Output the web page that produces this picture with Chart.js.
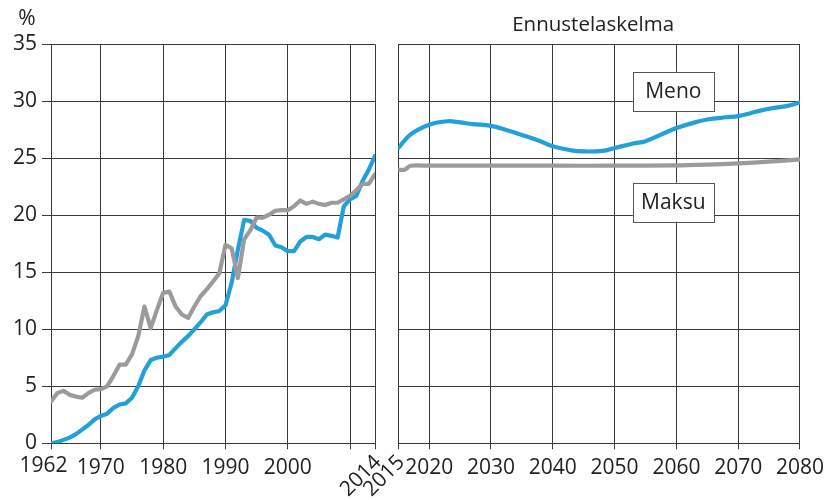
<!DOCTYPE html>
<html><head><meta charset="utf-8">
<script src="https://cdn.jsdelivr.net/npm/chart.js@4"></script>
<style>
html,body{margin:0;padding:0;background:#fff;}
#wrap{position:relative;width:830px;height:500px;overflow:hidden;}
canvas{position:absolute;top:0;}
#c1{left:0;}
#c2{left:330px;}
</style></head><body>
<div id="wrap">
<canvas id="c1" width="390" height="500"></canvas>
<canvas id="c2" width="500" height="500"></canvas>
</div>
<script>
// ---- data ----
const histYears = [1962,1963,1964,1965,1966,1967,1968,1969,1970,1971,1972,1973,1974,1975,1976,1977,1978,1979,1980,1981,1982,1983,1984,1985,1986,1987,1988,1989,1990,1991,1992,1993,1994,1995,1996,1997,1998,1999,2000,2001,2002,2003,2004,2005,2006,2007,2008,2009,2010,2011,2012,2013,2014];
const menoHist = [0.0,0.1,0.3,0.5,0.8,1.2,1.6,2.1,2.4,2.6,3.1,3.4,3.5,4.0,5.0,6.4,7.3,7.5,7.6,7.75,8.35,8.9,9.4,10.0,10.6,11.3,11.5,11.6,12.1,14.1,17.0,19.6,19.5,18.9,18.65,18.3,17.35,17.2,16.85,16.85,17.7,18.1,18.1,17.9,18.3,18.2,18.05,20.8,21.4,21.7,23.0,24.0,25.2];
const maksuHist = [3.66,4.4,4.6,4.25,4.1,4.0,4.4,4.7,4.75,5.0,5.9,6.9,6.9,7.8,9.4,12.0,10.1,11.7,13.2,13.3,12.0,11.3,11.0,12.0,12.9,13.5,14.2,14.9,17.4,17.1,14.5,17.9,18.7,19.8,19.8,20.05,20.4,20.45,20.45,20.8,21.3,21.0,21.2,21.0,20.9,21.1,21.1,21.4,21.7,22.2,22.75,22.75,23.6];
const foreYears = [2015,2017,2020,2023,2025,2027,2030,2033,2035,2038,2040,2043,2045,2048,2050,2053,2055,2058,2060,2063,2065,2068,2070,2073,2075,2078,2080];
const menoFore = [25.9,27.1,27.95,28.25,28.15,28.0,27.85,27.4,27.05,26.5,26.05,25.7,25.6,25.65,25.9,26.3,26.5,27.2,27.65,28.15,28.4,28.6,28.7,29.1,29.35,29.6,29.9];
const maksuForeYears = [2015,2016,2017,2020,2030,2040,2050,2060,2065,2070,2075,2080];
const maksuFore = [24.0,24.0,24.35,24.35,24.35,24.35,24.35,24.38,24.45,24.55,24.7,24.9];
const yTicks = [0,5,10,15,20,25,30,35];
const leftTickYears = [1962,1970,1980,1990,2000,2010,2014];
const leftTickLabels = ['','1970','1980','1990','2000','',''];
const rightTickYears = [2015,2020,2030,2040,2050,2060,2070,2080];
const rightTickLabels = ['','2020','2030','2040','2050','2060','2070','2080'];
const firstLeftLabel = {year:1962, text:'1962'};
const rotatedLeft = {year:2014, text:'2014'};
const rotatedRight = {year:2015, text:'2015'};
const labelMeno = {x:2059.5, y:30.87, text:'Meno'};
const labelMaksu = {x:2059.5, y:21.15, text:'Maksu'};
const titleRight = 'Ennustelaskelma';
const yUnit = '%';

const BLUE = '#239fda', GRAY = '#9b9b9d', GRID = '#3a3a3a', TXT = '#222';
const FONT = '"Open Sans", "DejaVu Sans", sans-serif';

function pts(xs, ys){ return xs.map((x,i)=>({x:x, y:ys[i]})); }

function ds(data, color, tension){
  return {data:data, borderColor:color, borderWidth:4.2, pointRadius:0, tension:tension,
    borderJoinStyle:'round', borderCapStyle:'round', fill:false};
}

function rotatedLabel(chart, item){
  const xs = chart.scales.x;
  const ctx = chart.ctx;
  const x = xs.getPixelForValue(item.year);
  ctx.save();
  ctx.translate(x + 3, 459);
  ctx.rotate(-Math.PI/4);
  ctx.font = '21px ' + FONT;
  ctx.fillStyle = TXT;
  ctx.textAlign = 'right';
  ctx.textBaseline = 'middle';
  ctx.fillText(item.text, 0, 0);
  ctx.restore();
}

function boxLabel(chart, item){
  const ctx = chart.ctx;
  const cx = chart.scales.x.getPixelForValue(item.x);
  const cy = chart.scales.y.getPixelForValue(item.y);
  const w = 81, h = 39;
  ctx.save();
  ctx.fillStyle = '#fff';
  ctx.strokeStyle = '#555';
  ctx.lineWidth = 1;
  ctx.fillRect(cx - w/2, cy - h/2, w, h);
  ctx.strokeRect(Math.round(cx - w/2)+0.5, Math.round(cy - h/2)+0.5, w, h);
  ctx.font = '21px ' + FONT;
  ctx.fillStyle = TXT;
  ctx.textAlign = 'center';
  ctx.textBaseline = 'middle';
  ctx.fillText(item.text, cx, cy + 1);
  ctx.restore();
}

const leftPlugin = {
  id:'leftExtras',
  afterDraw(chart){
    rotatedLabel(chart, rotatedLeft);
    const ctx = chart.ctx;
    const x0 = chart.scales.x.getPixelForValue(firstLeftLabel.year);
    ctx.save();
    ctx.font = '21px ' + FONT;
    ctx.fillStyle = TXT;
    ctx.textAlign = 'center';
    ctx.textBaseline = 'top';
    ctx.fillText(firstLeftLabel.text, x0 - 7.5, 456);
    ctx.textBaseline = 'middle';
    ctx.fillText(yUnit, 27, 19);
    ctx.restore();
  }
};
const rightPlugin = {
  id:'rightExtras',
  afterDraw(chart){
    rotatedLabel(chart, rotatedRight);
    boxLabel(chart, labelMeno);
    boxLabel(chart, labelMaksu);
    const ctx = chart.ctx;
    const a = chart.chartArea;
    ctx.save();
    ctx.font = '20.5px ' + FONT;
    ctx.fillStyle = TXT;
    ctx.textAlign = 'center';
    ctx.textBaseline = 'middle';
    ctx.fillText(titleRight, (a.left + a.right)/2 - 6, 25);
    ctx.restore();
  }
};

function yScale(showTicks, width){
  return {
    type:'linear', min:0, max:35,
    afterBuildTicks(s){ s.ticks = yTicks.map(v=>({value:v})); },
    afterFit(s){ s.width = width; },
    ticks:{display:showTicks, color:TXT, font:{size:21, family:FONT}, padding:5},
    grid:{color:GRID, lineWidth:1, tickLength: showTicks ? 9 : 0, drawTicks: showTicks},
    border:{color:GRID, width:1}
  };
}
function xScale(min, max, years, labels){
  return {
    type:'linear', min:min, max:max,
    afterBuildTicks(s){ s.ticks = years.map(v=>({value:v})); },
    afterFit(s){ s.height = 56.7; },
    ticks:{color:TXT, font:{size:21, family:FONT}, maxRotation:0, minRotation:0, autoSkip:false, padding:6,
      callback(v){ const i = years.indexOf(v); return i >= 0 ? labels[i] : ''; }},
    grid:{color:GRID, lineWidth:1, tickLength:6},
    border:{color:GRID, width:1}
  };
}

Chart.defaults.font.family = FONT;

new Chart(document.getElementById('c1'), {
  type:'line',
  data:{datasets:[
    ds(pts(histYears, maksuHist), GRAY, 0),
    ds(pts(histYears, menoHist), BLUE, 0)
  ]},
  options:{
    responsive:false, animation:false, devicePixelRatio:1,
    layout:{padding:{top:44.3, right:15, left:0, bottom:0}},
    plugins:{legend:{display:false}, tooltip:{enabled:false}},
    scales:{ x:xScale(1962, 2014, leftTickYears, leftTickLabels), y:yScale(true, 51) }
  },
  plugins:[leftPlugin]
});

new Chart(document.getElementById('c2'), {
  type:'line',
  data:{datasets:[
    ds(pts(maksuForeYears, maksuFore), GRAY, 0.3),
    ds(pts(foreYears, menoFore), BLUE, 0.4)
  ]},
  options:{
    responsive:false, animation:false, devicePixelRatio:1,
    layout:{padding:{top:44.3, right:30, left:0, bottom:0}},
    plugins:{legend:{display:false}, tooltip:{enabled:false}},
    scales:{ x:xScale(2015, 2080, rightTickYears, rightTickLabels), y:yScale(false, 68.3) }
  },
  plugins:[rightPlugin]
});
</script>
</body></html>
